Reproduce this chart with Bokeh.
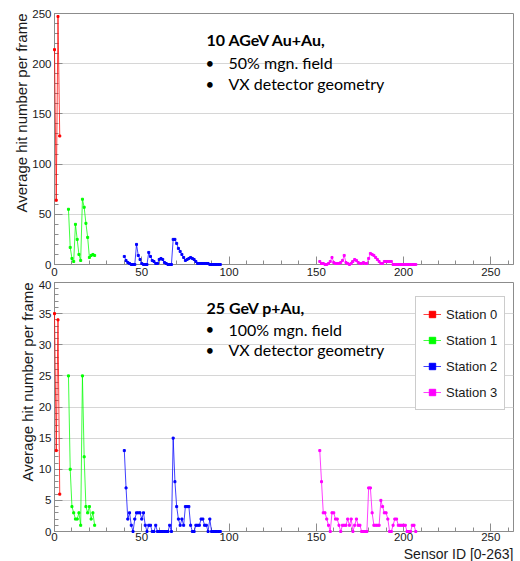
from bokeh.plotting import figure
from bokeh.layouts import column
from bokeh.models import Label, Range1d, SingleIntervalTicker, Title
from bokeh.embed import file_html
from bokeh.resources import INLINE

# ---------------- data ----------------
station_names = ["Station 0", "Station 1", "Station 2", "Station 3"]
station_first_sensor = [0, 8, 40, 152]
station_colors = ["#ff0000", "#00ff00", "#0000ff", "#ff00ff"]

# 10 AGeV Au+Au, 50% field
auau_s0 = [214, 64, 247, 128]
auau_s1 = [55, 17, 6, 3, 40, 25, 10, 4, 65, 57, 41, 27, 7, 9, 10, 9]
auau_s2 = [8, 4, 2, 1, 0, 0, 0, 20, 9, 5, 1, 0, 0, 0, 12, 8, 4, 3, 1, 1,
           5, 6, 5, 2, 1, 0, 0, 0, 25, 25, 21, 16, 13, 10, 7, 4, 5, 6, 7, 6,
           5, 3, 1, 1, 1, 1, 1, 1, 1, 0, 0, 0, 0, 0, 0, 0]
auau_s3 = [3, 1, 1, 0, 0, 1, 3, 7, 2, 1, 1, 1, 2, 4, 9, 2, 1, 0, 1, 3,
           5, 4, 2, 1, 1, 2, 1, 1, 6, 11, 10, 9, 7, 5, 3, 1, 1, 3, 3, 3,
           3, 3, 0, 0, 0, 0, 0, 0, 0, 0, 0, 0, 0, 0, 0, 0]

# 25 GeV p+Au, 100% field
pau_s0 = [35, 13, 34, 6]
pau_s1 = [25, 10, 4, 3, 2, 2, 3, 1, 25, 12, 4, 3, 4, 2, 3, 1]
pau_s2 = [13, 7, 2, 3, 1, 0, 2, 3, 3, 3, 2, 3, 1, 0, 1, 1, 0, 0, 1, 0,
          0, 0, 0, 0, 0, 0, 1, 0, 15, 8, 4, 2, 1, 2, 1, 4, 4, 4, 1, 0,
          0, 1, 1, 1, 2, 2, 1, 1, 0, 2, 0, 0, 0, 0, 0, 0]
pau_s3 = [13, 8, 3, 3, 2, 1, 0, 3, 3, 2, 2, 1, 0, 1, 1, 1, 2, 1, 2, 0,
          1, 2, 1, 1, 0, 0, 0, 0, 7, 7, 3, 1, 1, 1, 1, 5, 4, 3, 3, 2,
          0, 0, 1, 2, 2, 1, 1, 1, 1, 1, 0, 0, 0, 1, 1, 0]

x_max = 263
y_title = "Average hit number per frame"
x_title = "Sensor ID [0-263]"
top_notes = ["10 AGeV Au+Au,", "50% mgn. field", "VX detector geometry"]
bot_notes = ["25 GeV p+Au,", "100% mgn. field", "VX detector geometry"]

AX = "#8c8c8c"
TXT = "#1a1a1a"


def make_panel(height, ymax, yint, btop, bbottom):
    p = figure(width=520, height=height, x_range=Range1d(0, x_max),
               y_range=Range1d(0, ymax), output_backend="svg",
               toolbar_location=None, tools="",
               min_border_left=54, min_border_right=7,
               min_border_top=btop, min_border_bottom=bbottom)
    p.outline_line_color = AX
    p.outline_line_width = 1
    p.xaxis.ticker = SingleIntervalTicker(interval=50, num_minor_ticks=5)
    p.yaxis.ticker = SingleIntervalTicker(interval=yint, num_minor_ticks=5)
    p.ygrid.ticker = p.yaxis[0].ticker
    p.xgrid.visible = False
    p.ygrid.grid_line_color = "#d6d6d6"
    for ax in (p.xaxis, p.yaxis):
        ax.axis_line_color = AX
        ax.major_tick_line_color = AX
        ax.minor_tick_line_color = AX
        ax.major_tick_in = 8
        ax.major_tick_out = 0
        ax.minor_tick_in = 4
        ax.minor_tick_out = 0
        ax.major_label_text_font = "Liberation Sans"
        ax.major_label_text_font_size = "11.5px"
        ax.major_label_text_color = TXT
        ax.major_label_standoff = 3
    p.add_layout(Title(text=y_title, align="right", text_font="Liberation Sans",
                       text_font_size="15px", text_font_style="normal",
                       text_color=TXT, standoff=0, offset=0), "left")
    return p


def add_series(p, series, legend):
    for name, start, col, vals in zip(station_names, station_first_sensor,
                                      station_colors, series):
        xs = list(range(start, start + len(vals)))
        kw = {"legend_label": name} if legend else {}
        p.line(xs, vals, line_color=col, line_width=1, line_alpha=0.75,
               level="overlay", **kw)
        p.scatter(xs, vals, marker="square", size=2, fill_color=col,
                  line_color=col, level="overlay", **kw)


def px_to_x(px):
    return (px - 54) * x_max / 459.0


def add_notes(p, notes, ymax, frame_top, frame_bottom, rows_px):
    def py_to_y(py):
        return (frame_bottom - py) * ymax / (frame_bottom - frame_top)
    p.add_layout(Label(x=px_to_x(206), y=py_to_y(rows_px[0]), text=notes[0],
                       text_font="Lato", text_font_style="bold",
                       text_font_size="16px", text_baseline="middle",
                       text_color="#000000"))
    for txt, py in zip(notes[1:], rows_px[1:]):
        p.add_layout(Label(x=px_to_x(205), y=py_to_y(py), text="\u2022",
                           text_font="Lato", text_font_size="15px",
                           text_baseline="middle", text_color="#000000"))
        p.add_layout(Label(x=px_to_x(228), y=py_to_y(py), text=txt,
                           text_font="Lato", text_font_size="16px",
                           text_baseline="middle", text_color="#000000"))


# top panel
p1 = make_panel(280, 250, 50, 13, 16)
add_series(p1, [auau_s0, auau_s1, auau_s2, auau_s3], legend=False)
add_notes(p1, top_notes, 250, 13, 264, [39, 62, 83])

# bottom panel
p2 = make_panel(281, 40, 5, 2, 28)
p2.xaxis.major_label_standoff = 1
p2.add_layout(Title(text=x_title, align="right", text_font="Liberation Sans",
                    text_font_size="14px", text_font_style="normal",
                    text_color=TXT, standoff=0, offset=0), "below")
add_series(p2, [pau_s0, pau_s1, pau_s2, pau_s3], legend=True)
add_notes(p2, bot_notes, 40, 282, 533, [307, 329, 350])

lg = p2.legend[0]
lg.location = (361, 121)
lg.border_line_color = "#999999"
lg.background_fill_color = "white"
lg.background_fill_alpha = 1
lg.label_text_font = "Liberation Sans"
lg.label_text_font_size = "13px"
lg.label_text_color = TXT
lg.glyph_width = 18
lg.glyph_height = 16
lg.label_height = 20
lg.spacing = 6
lg.padding = 7
lg.label_standoff = 5
lg.margin = 0

layout = column(p1, p2, spacing=0)
open("out.html", "w").write(file_html(layout, INLINE))
